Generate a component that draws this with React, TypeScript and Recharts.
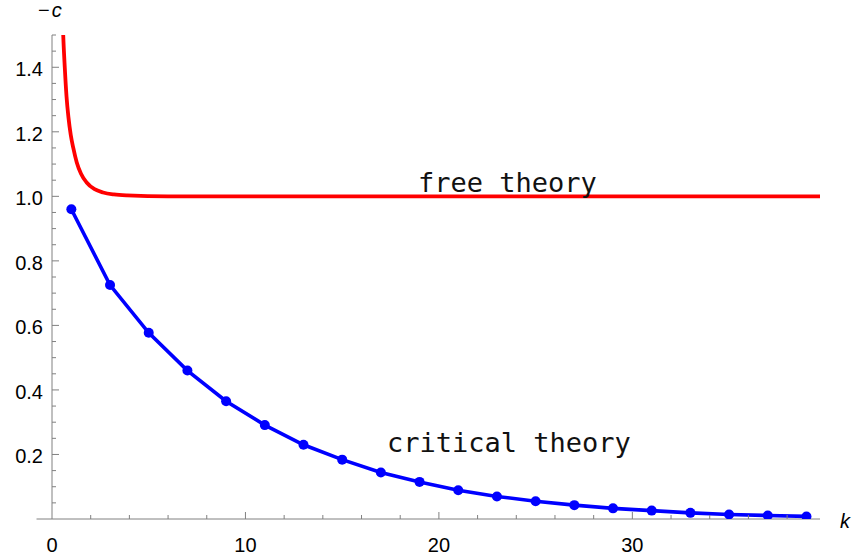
import { ComposedChart, Line, ReferenceLine, XAxis, YAxis } from "recharts";

// critical theory: values at odd k
const criticalK = [1, 3, 5, 7, 9, 11, 13, 15, 17, 19, 21, 23, 25, 27, 29, 31, 33, 35, 37, 39];
const criticalC = [
  0.96, 0.725, 0.577, 0.46, 0.365, 0.291, 0.23, 0.184, 0.144, 0.115, 0.089, 0.07, 0.055, 0.043,
  0.033, 0.026, 0.019, 0.014, 0.011, 0.008
];

// free theory curve
const freeK = [0.5, 0.58, 0.66, 0.75, 0.85, 0.97, 1.1, 1.28, 1.5, 1.79, 2.2, 2.64, 3.2, 3.88, 6, 39.7];
const freeC = [1.66, 1.5, 1.4, 1.31, 1.245, 1.19, 1.15, 1.105, 1.07, 1.043, 1.022, 1.012, 1.006, 1.003, 1.0, 1.0];

const xTicks = [0, 2, 4, 6, 8, 10, 12, 14, 16, 18, 20, 22, 24, 26, 28, 30, 32, 34, 36, 38];
const xLabels = [0, 10, 20, 30];
const yTicks = [
  0.05, 0.1, 0.15, 0.2, 0.25, 0.3, 0.35, 0.4, 0.45, 0.5, 0.55, 0.6, 0.65, 0.7, 0.75, 0.8, 0.85,
  0.9, 0.95, 1.0, 1.05, 1.1, 1.15, 1.2, 1.25, 1.3, 1.35, 1.4, 1.45, 1.5
];
const yLabels = [0.2, 0.4, 0.6, 0.8, 1.0, 1.2, 1.4];

const critical = criticalK.map((k, i) => ({ k, c: criticalC[i] }));
const free = freeK.map((k, i) => ({ k, c: freeC[i] }));

const axisColor = "#808080";
const tickFont = "'Liberation Sans', Arial, sans-serif";

function XTick(props: any) {
  const { x, y, payload } = props;
  const v = payload.value;
  const major = xLabels.includes(v);
  return (
    <g>
      {v !== 0 && (
        <line x1={x} x2={x} y1={y} y2={y - (major ? 7 : 4)} stroke={axisColor} strokeWidth={1} />
      )}
      {major && (
        <text x={x} y={y + 33} textAnchor="middle" fontSize={20} fontFamily={tickFont} fill="#000">
          {v}
        </text>
      )}
    </g>
  );
}

function YTick(props: any) {
  const { x, y, payload } = props;
  const v = payload.value;
  const major = yLabels.some((l) => Math.abs(l - v) < 1e-6);
  return (
    <g>
      <line x1={x} x2={x + (major ? 7 : 4)} y1={y} y2={y} stroke={axisColor} strokeWidth={1} />
      {major && (
        <text x={x - 9} y={y + 9} textAnchor="end" fontSize={20} fontFamily={tickFont} fill="#000">
          {v.toFixed(1)}
        </text>
      )}
    </g>
  );
}

export default function App() {
  return (
    <div style={{ position: "fixed", left: 0, top: 0, width: 852, height: 560, background: "#fff" }}>
      <ComposedChart width={852} height={560} margin={{ top: 35, right: 32, left: 0, bottom: 0 }}>
        <XAxis
          type="number"
          dataKey="k"
          domain={[0, 39.7]}
          ticks={xTicks}
          interval={0}
          axisLine={false}
          tickLine={false}
          tickSize={0}
          tickMargin={0}
          height={41}
          allowDataOverflow
          tick={(p: any) => <XTick {...p} />}
        />
        <YAxis
          type="number"
          domain={[0, 1.5]}
          ticks={yTicks}
          interval={0}
          width={52}
          axisLine={{ stroke: axisColor, strokeWidth: 1 }}
          tickLine={false}
          tickSize={0}
          tickMargin={0}
          allowDataOverflow
          tick={(p: any) => <YTick {...p} />}
        />
        <ReferenceLine
          segment={[
            { x: -0.8, y: 0 },
            { x: 39.7, y: 0 }
          ]}
          ifOverflow="visible"
          stroke={axisColor}
          strokeWidth={1}
        />
        <Line
          data={free}
          dataKey="c"
          type="monotone"
          stroke="#ff0000"
          strokeWidth={3.8}
          dot={false}
          isAnimationActive={false}
        />
        <Line
          data={critical}
          dataKey="c"
          type="linear"
          stroke="#0000ff"
          strokeWidth={3.6}
          dot={{ r: 5, fill: "#0000ff", stroke: "none" }}
          isAnimationActive={false}
        />
      </ComposedChart>
      <svg
        width={852}
        height={560}
        style={{ position: "absolute", left: 0, top: 0, pointerEvents: "none" }}
      >
        <text x={38} y={17} fontSize={20} fontFamily={tickFont} fill="#000">
          <tspan>−</tspan>
          <tspan fontStyle="italic" dx={2}>c</tspan>
        </text>
        <text x={840} y={528} fontSize={20} fontFamily={tickFont} fontStyle="italic" fill="#000">
          k
        </text>
        <text x={418} y={192} fontSize={27} fontFamily="'DejaVu Sans Mono', monospace" fill="#111">
          free theory
        </text>
        <text x={387} y={452} fontSize={27} fontFamily="'DejaVu Sans Mono', monospace" fill="#111">
          critical theory
        </text>
      </svg>
    </div>
  );
}
